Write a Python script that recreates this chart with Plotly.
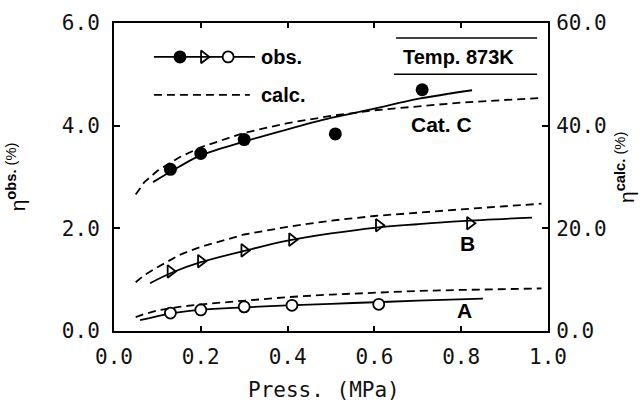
import plotly.graph_objects as go

# ---------------- data ----------------
# Observed points (left axis, eta_obs %)
C_obs_x = [0.13, 0.20, 0.30, 0.51, 0.71]
C_obs_y = [3.15, 3.46, 3.73, 3.84, 4.70]
B_obs_x = [0.13, 0.20, 0.30, 0.41, 0.61, 0.82]
B_obs_y = [1.16, 1.36, 1.57, 1.78, 2.06, 2.10]
A_obs_x = [0.13, 0.20, 0.30, 0.41, 0.61]
A_obs_y = [0.35, 0.41, 0.47, 0.50, 0.52]

# Solid fitted curves through observations (left axis)
C_fit_x = [0.09, 0.15, 0.20, 0.30, 0.40, 0.50, 0.60, 0.70, 0.825]
C_fit_y = [2.90, 3.20, 3.42, 3.69, 3.93, 4.15, 4.33, 4.52, 4.69]
B_fit_x = [0.083, 0.134, 0.20, 0.30, 0.40, 0.50, 0.60, 0.70, 0.80, 0.963]
B_fit_y = [0.93, 1.14, 1.34, 1.56, 1.76, 1.90, 2.01, 2.08, 2.14, 2.21]
A_fit_x = [0.06, 0.13, 0.20, 0.30, 0.40, 0.50, 0.60, 0.70, 0.85]
A_fit_y = [0.21, 0.34, 0.41, 0.46, 0.50, 0.53, 0.56, 0.59, 0.63]

# Calculated curves (right axis, eta_calc %)
calc_x = [0.05, 0.07, 0.10, 0.15, 0.20, 0.30, 0.40, 0.50, 0.60, 0.70, 0.80, 0.90, 0.985]
C_calc = [26.6, 29.0, 31.2, 33.8, 35.8, 38.6, 40.5, 41.9, 43.0, 43.8, 44.5, 45.0, 45.4]
B_calc = [9.5, 10.9, 12.4, 14.8, 16.4, 18.8, 20.3, 21.5, 22.4, 23.1, 23.7, 24.3, 24.8]
A_calc = [2.7, 3.3, 4.0, 4.7, 5.2, 5.9, 6.6, 7.1, 7.5, 7.8, 8.0, 8.2, 8.3]

x_ticks = [0.0, 0.2, 0.4, 0.6, 0.8, 1.0]
y_ticks = [0.0, 2.0, 4.0, 6.0]
y2_ticks = [0.0, 20.0, 40.0, 60.0]

# legend key sample positions (data coordinates)
leg_line_x = [0.092, 0.325]
leg_obs_y = 5.34
leg_marker_x = [0.152, 0.207, 0.263]
leg_calc_x = [0.092, 0.313]
leg_calc_y = 4.60

# ---------------- figure ----------------
fig = go.Figure()
line_solid = dict(color="black", width=1.8)
line_dash = dict(color="black", width=1.8, dash="8px,5px")

for yc in [C_calc, B_calc, A_calc]:
    fig.add_trace(go.Scatter(x=calc_x, y=yc, mode="lines", line=line_dash,
                             yaxis="y2", showlegend=False, hoverinfo="skip"))

for fx, fy in [(C_fit_x, C_fit_y), (B_fit_x, B_fit_y), (A_fit_x, A_fit_y)]:
    fig.add_trace(go.Scatter(x=fx, y=fy, mode="lines", line=dict(line_solid, shape="spline"),
                             showlegend=False))

m_fill = dict(symbol="circle", size=13, color="black", line=dict(width=0))
m_tri = dict(symbol="triangle-right-open", size=11, color="black", line=dict(width=1.8))
m_open = dict(symbol="circle", size=11, color="white", line=dict(color="black", width=1.8))

fig.add_trace(go.Scatter(x=C_obs_x, y=C_obs_y, mode="markers", marker=m_fill, showlegend=False))
fig.add_trace(go.Scatter(x=B_obs_x, y=B_obs_y, mode="markers", marker=m_tri, showlegend=False))
fig.add_trace(go.Scatter(x=A_obs_x, y=A_obs_y, mode="markers", marker=m_open, showlegend=False))

# legend key
fig.add_trace(go.Scatter(x=leg_line_x, y=[leg_obs_y] * 2, mode="lines", line=line_solid,
                         showlegend=False))
for mx, mk in zip(leg_marker_x, [m_fill, m_tri, m_open]):
    fig.add_trace(go.Scatter(x=[mx], y=[leg_obs_y], mode="markers", marker=mk,
                             showlegend=False))
fig.add_trace(go.Scatter(x=leg_calc_x, y=[leg_calc_y] * 2, mode="lines", line=line_dash,
                         showlegend=False))

bold = dict(family="Liberation Sans, Arial", size=20, color="black")
ann = [
    dict(x=0.333, y=leg_obs_y, xref="x", yref="y", text="<b>obs.</b>", showarrow=False,
         xanchor="left", yanchor="middle", font=bold),
    dict(x=0.333, y=leg_calc_y, xref="x", yref="y", text="<b>calc.</b>", showarrow=False,
         xanchor="left", yanchor="middle", font=bold),
    dict(x=0.793, y=0.89, xref="paper", yref="paper", text="<b>Temp. 873K</b>",
         showarrow=False, xanchor="center", yanchor="middle", font=bold),
    dict(x=0.755, y=4.02, xref="x", yref="y", text="<b>Cat. C</b>", showarrow=False,
         xanchor="center", yanchor="middle", font=dict(bold, size=21)),
    dict(x=0.815, y=1.70, xref="x", yref="y", text="<b>B</b>", showarrow=False,
         xanchor="center", yanchor="middle", font=dict(bold, size=21)),
    dict(x=0.808, y=0.39, xref="x", yref="y", text="<b>A</b>", showarrow=False,
         xanchor="center", yanchor="middle", font=dict(bold, size=21)),
    # axis titles
    dict(x=0.483, y=-0.19, xref="paper", yref="paper", text="Press. (MPa)", showarrow=False,
         xanchor="center", yanchor="middle",
         font=dict(family="DejaVu Sans Mono", size=21, color="#111")),
    dict(x=-0.225, y=0.5, xref="paper", yref="paper", textangle=-90, showarrow=False,
         text="η<sup><b>obs.</b> (%)</sup>",
         xanchor="center", yanchor="middle",
         font=dict(family="Liberation Sans, Arial", size=21, color="black")),
    dict(x=1.178, y=0.53, xref="paper", yref="paper", textangle=-90, showarrow=False,
         text="η<sup><b>calc.</b> (%)</sup>",
         xanchor="center", yanchor="middle",
         font=dict(family="Liberation Sans, Arial", size=21, color="black")),
]

shapes = [
    dict(type="line", xref="paper", yref="paper", x0=0.65, x1=0.975, y0=0.951, y1=0.951,
         line=dict(color="black", width=1.5)),
    dict(type="line", xref="paper", yref="paper", x0=0.645, x1=0.975, y0=0.834, y1=0.834,
         line=dict(color="black", width=1.5)),
]

tickfont = dict(family="DejaVu Sans Mono", size=21, color="#111")
fig.update_layout(
    width=644, height=403,
    margin=dict(l=114, r=96, t=23, b=72),
    paper_bgcolor="white", plot_bgcolor="white",
    annotations=ann, shapes=shapes,
    xaxis=dict(range=[0, 1], tickvals=x_ticks, tickformat=".1f", showgrid=False,
               zeroline=False, showline=True, linecolor="black", linewidth=2,
               mirror="ticks", ticks="inside", ticklen=5, tickwidth=1.5,
               tickcolor="black", tickfont=tickfont, ticklabelstandoff=6),
    yaxis=dict(range=[0, 6], tickvals=y_ticks, tickformat=".1f", showgrid=False,
               zeroline=False, showline=True, linecolor="black", linewidth=2,
               ticks="inside", ticklen=6, tickwidth=1.5, tickcolor="black",
               tickfont=tickfont, ticklabelstandoff=8),
    yaxis2=dict(range=[0, 60], tickvals=y2_ticks, tickformat=".1f", overlaying="y",
                side="right", showgrid=False, zeroline=False, showline=True,
                linecolor="black", linewidth=2, ticks="inside", ticklen=6,
                tickwidth=1.5, tickcolor="black", tickfont=tickfont,
                ticklabelstandoff=2),
)

fig.write_html("out.html")
